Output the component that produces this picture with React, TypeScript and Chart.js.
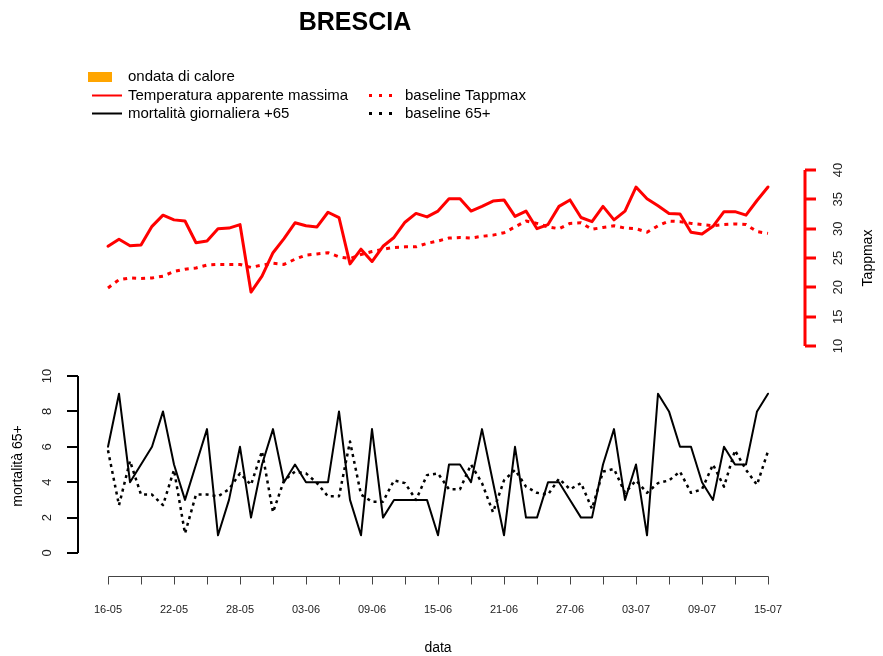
import React, { useEffect, useRef } from "react";
import { Chart, registerables } from "chart.js";

Chart.register(...registerables);

const TITLE = "BRESCIA";

const dates = [
  "16-05","17-05","18-05","19-05","20-05","21-05","22-05","23-05","24-05","25-05","26-05","27-05","28-05","29-05","30-05","31-05",
  "01-06","02-06","03-06","04-06","05-06","06-06","07-06","08-06","09-06","10-06","11-06","12-06","13-06","14-06","15-06",
  "16-06","17-06","18-06","19-06","20-06","21-06","22-06","23-06","24-06","25-06","26-06","27-06","28-06","29-06","30-06",
  "01-07","02-07","03-07","04-07","05-07","06-07","07-07","08-07","09-07","10-07","11-07","12-07","13-07","14-07","15-07",
];

// heat-wave days (none flagged in this period)
const heatWave: (number | null)[] = dates.map(() => null);

const tappMax = [
  27.0, 28.2, 27.1, 27.2, 30.4, 32.3, 31.5, 31.3, 27.6, 27.9,
  30.0, 30.1, 30.7, 19.2, 21.9, 25.9, 28.3, 31.0, 30.5, 30.3,
  32.8, 31.9, 24.0, 26.5, 24.4, 27.0, 28.5, 31.1, 32.6, 32.0,
  33.0, 35.1, 35.1, 33.0, 33.8, 34.7, 34.9, 32.1, 33.0, 30.0,
  30.7, 33.8, 34.9, 31.9, 31.2, 33.8, 31.5, 33.0, 37.1, 35.1,
  33.9, 32.6, 32.5, 29.4, 29.1, 30.4, 32.9, 32.9, 32.3, 34.8,
  37.1,
];

const baselineTapp = [
  19.9, 21.3, 21.6, 21.5, 21.6, 21.9, 22.7, 23.1, 23.3, 23.8,
  23.9, 23.9, 23.9, 23.4, 23.8, 24.1, 23.9, 24.8, 25.5, 25.7,
  25.9, 25.2, 24.9, 25.6, 26.1, 26.5, 26.8, 26.9, 26.9, 27.5,
  27.9, 28.4, 28.5, 28.4, 28.7, 28.9, 29.3, 30.3, 31.3, 30.9,
  30.3, 30.0, 30.9, 31.0, 29.9, 30.2, 30.5, 30.1, 30.0, 29.4,
  30.5, 31.3, 31.2, 30.9, 30.7, 30.5, 30.7, 30.8, 30.7, 29.5,
  29.2,
];

const mortality = [
  6, 9, 4, 5, 6, 8, 5, 3, 5, 7,
  1, 3, 6, 2, 5, 7, 4, 5, 4, 4,
  4, 8, 3, 1, 7, 2, 3, 3, 3, 3,
  1, 5, 5, 4, 7, 4, 1, 6, 2, 2,
  4, 4, 3, 2, 2, 5, 7, 3, 5, 1,
  9, 8, 6, 6, 4, 3, 6, 5, 5, 8,
  9,
];

const baseline65 = [
  5.8, 2.7, 5.2, 3.3, 3.3, 2.7, 4.7, 1.1, 3.3, 3.3,
  3.2, 3.6, 4.5, 3.85, 5.75, 2.3, 4.1, 4.6, 4.5, 3.95,
  3.2, 3.2, 6.3, 3.3, 2.9, 2.9, 4.1, 3.95, 3.0, 4.4,
  4.5, 3.6, 3.6, 5.0, 3.95, 2.3, 4.1, 4.7, 3.75, 3.4,
  3.3, 4.2, 3.6, 3.95, 2.5, 4.6, 4.75, 3.4, 4.1, 3.4,
  3.95, 4.1, 4.6, 3.4, 3.6, 5.0, 3.75, 5.8, 4.7, 3.85,
  5.75,
];

const mortTicks = [0, 2, 4, 6, 8, 10];
const tempTicks = [10, 15, 20, 25, 30, 35, 40];

const FONT = '"Liberation Sans", Arial, Helvetica, sans-serif';
const f = (size: number, bold = false) => `${bold ? "bold " : ""}${size}px ${FONT}`;

const rStylePlugin = {
  id: "rStyle",
  afterDraw(chart: any) {
    const ctx: CanvasRenderingContext2D = chart.ctx;
    const xs = chart.scales.x;
    const yT = chart.scales.yT;
    const yM = chart.scales.yM;
    const ds = chart.data.datasets;
    ctx.save();

    // Title
    ctx.fillStyle = "#000";
    ctx.font = f(25, true);
    ctx.textAlign = "center";
    ctx.textBaseline = "middle";
    ctx.fillText(TITLE, 355, 23);

    // Legend
    ctx.font = f(15);
    ctx.textAlign = "left";
    ctx.textBaseline = "middle";
    const drawLineSample = (x0: number, x1: number, y: number, d: any) => {
      ctx.save();
      ctx.strokeStyle = d.borderColor;
      ctx.lineWidth = d.borderDash ? 3 : 2;
      ctx.setLineDash(d.borderDash ? [3, 7] : []);
      ctx.beginPath();
      ctx.moveTo(x0, y);
      ctx.lineTo(x1, y);
      ctx.stroke();
      ctx.restore();
    };
    // row 1: heat wave box
    ctx.fillStyle = ds[0].backgroundColor;
    ctx.fillRect(88, 72, 24, 10);
    ctx.fillStyle = "#000";
    ctx.fillText(ds[0].label, 128, 77);
    // row 2
    drawLineSample(92, 122, 95.5, ds[1]);
    ctx.fillText(ds[1].label, 128, 95.5);
    drawLineSample(369, 399, 95.5, ds[2]);
    ctx.fillText(ds[2].label, 405, 95.5);
    // row 3
    drawLineSample(92, 122, 113.5, ds[3]);
    ctx.fillText(ds[3].label, 128, 113.5);
    drawLineSample(369, 399, 113.5, ds[4]);
    ctx.fillText(ds[4].label, 405, 113.5);

    // X axis (R style)
    const xa = 576.5;
    const px0 = xs.getPixelForValue(0);
    const px1 = xs.getPixelForValue(dates.length - 1);
    ctx.strokeStyle = "#444";
    ctx.lineWidth = 1;
    ctx.beginPath();
    ctx.moveTo(Math.round(px0) + 0.5, xa);
    ctx.lineTo(Math.round(px1) + 0.5, xa);
    for (let i = 0; i < dates.length; i += 3) {
      const px = Math.round(xs.getPixelForValue(i)) + 0.5;
      ctx.moveTo(px, xa);
      ctx.lineTo(px, xa + 8);
    }
    ctx.stroke();
    ctx.fillStyle = "#222";
    ctx.font = f(11);
    ctx.textAlign = "center";
    ctx.textBaseline = "middle";
    for (let i = 0; i < dates.length; i += 6) {
      ctx.fillText(dates[i], xs.getPixelForValue(i), 610);
    }
    ctx.fillStyle = "#000";
    ctx.font = f(14);
    ctx.fillText("data", 438, 648);

    // Left axis (mortality)
    const lx = 78;
    ctx.strokeStyle = "#000";
    ctx.lineWidth = 2;
    ctx.beginPath();
    ctx.moveTo(lx, yM.getPixelForValue(0));
    ctx.lineTo(lx, yM.getPixelForValue(10));
    for (const t of mortTicks) {
      const py = Math.round(yM.getPixelForValue(t));
      ctx.moveTo(lx, py);
      ctx.lineTo(lx - 11, py);
    }
    ctx.stroke();
    ctx.fillStyle = "#222";
    ctx.font = f(13);
    for (const t of mortTicks) {
      const py = yM.getPixelForValue(t);
      ctx.save();
      ctx.translate(47, py);
      ctx.rotate(-Math.PI / 2);
      ctx.fillText(String(t), 0, 0);
      ctx.restore();
    }
    ctx.fillStyle = "#000";
    ctx.font = f(14);
    ctx.save();
    ctx.translate(18, 466);
    ctx.rotate(-Math.PI / 2);
    ctx.fillText("mortalità 65+", 0, 0);
    ctx.restore();

    // Right axis (Tappmax)
    const rx = 805;
    ctx.strokeStyle = "#ff0000";
    ctx.lineWidth = 3;
    ctx.beginPath();
    ctx.moveTo(rx, yT.getPixelForValue(10));
    ctx.lineTo(rx, yT.getPixelForValue(40));
    for (const t of tempTicks) {
      const py = Math.round(yT.getPixelForValue(t));
      ctx.moveTo(rx, py);
      ctx.lineTo(rx + 11, py);
    }
    ctx.stroke();
    ctx.fillStyle = "#222";
    ctx.font = f(13);
    for (const t of tempTicks) {
      const py = yT.getPixelForValue(t);
      ctx.save();
      ctx.translate(838, py);
      ctx.rotate(-Math.PI / 2);
      ctx.fillText(String(t), 0, 0);
      ctx.restore();
    }
    ctx.fillStyle = "#000";
    ctx.font = f(14);
    ctx.save();
    ctx.translate(868, 258);
    ctx.rotate(-Math.PI / 2);
    ctx.fillText("Tappmax", 0, 0);
    ctx.restore();

    ctx.restore();
  },
};

export default function App() {
  const ref = useRef<HTMLCanvasElement | null>(null);

  useEffect(() => {
    if (!ref.current) return;
    const lineCommon = {
      pointRadius: 0,
      tension: 0,
      clip: false,
      borderJoinStyle: "round",
    };
    const chart = new Chart(ref.current, {
      type: "line",
      data: {
        labels: dates,
        datasets: [
          {
            type: "bar",
            label: "ondata di calore",
            data: heatWave,
            backgroundColor: "#FFA500",
            yAxisID: "yT",
          } as any,
          {
            ...lineCommon,
            label: "Temperatura apparente massima",
            data: tappMax,
            borderColor: "#ff0000",
            borderWidth: 3,
            borderCapStyle: "round",
            yAxisID: "yT",
          },
          {
            ...lineCommon,
            label: "baseline Tappmax",
            data: baselineTapp,
            borderColor: "#ff0000",
            borderWidth: 3,
            borderDash: [4, 5],
            yAxisID: "yT",
          },
          {
            ...lineCommon,
            label: "mortalità giornaliera +65",
            data: mortality,
            borderColor: "#000000",
            borderWidth: 2,
            borderCapStyle: "round",
            yAxisID: "yM",
          },
          {
            ...lineCommon,
            label: "baseline 65+",
            data: baseline65,
            borderColor: "#000000",
            borderWidth: 2.5,
            borderDash: [3, 4],
            yAxisID: "yM",
          },
        ],
      },
      options: {
        responsive: false,
        devicePixelRatio: 1,
        animation: false,
        layout: { padding: { left: 108, right: 115, top: 170, bottom: 103 } },
        plugins: {
          legend: { display: false },
          title: { display: false },
          tooltip: { enabled: false },
        },
        scales: {
          x: { type: "category", display: false, offset: false },
          yT: { type: "linear", display: false, min: -25.28, max: 40 },
          yM: { type: "linear", display: false, min: 0, max: 21.64 },
        },
      },
      plugins: [rStylePlugin],
    } as any);
    return () => chart.destroy();
  }, []);

  return (
    <canvas
      ref={ref}
      width={883}
      height={656}
      style={{ position: "absolute", left: 0, top: 0, width: 883, height: 656 }}
    />
  );
}
